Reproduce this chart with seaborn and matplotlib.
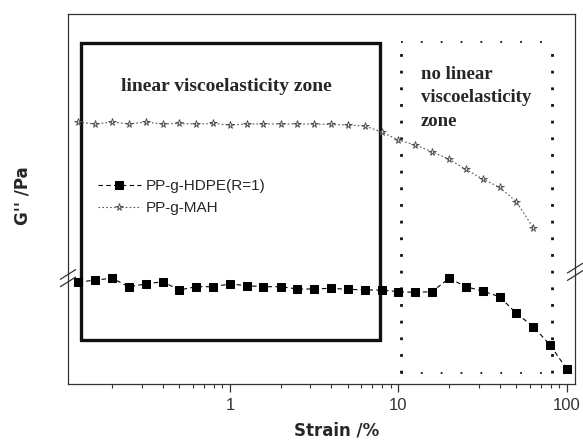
import numpy as np
import pandas as pd
import matplotlib
matplotlib.use("Agg")
import matplotlib.pyplot as plt
import seaborn as sns

# ---- data (y in arbitrary units; axis carries no numeric scale) ----
strain_hdpe = [0.126, 0.158, 0.2, 0.251, 0.316, 0.398, 0.501, 0.631, 0.794, 1.0,
               1.26, 1.58, 2.0, 2.51, 3.16, 3.98, 5.01, 6.31, 7.94, 10.0,
               12.6, 15.8, 20.0, 25.1, 31.6, 39.8, 50.1, 63.1, 79.4, 100.0]
g_hdpe = [101.7, 104.0, 105.7, 97.3, 100.0, 102.3, 94.0, 97.3, 97.3, 100.0,
          98.3, 97.3, 97.3, 95.0, 95.0, 95.7, 94.7, 94.0, 94.0, 92.3,
          91.7, 92.3, 105.7, 97.3, 93.0, 87.3, 70.7, 57.3, 39.0, 14.7]
strain_mah = [0.126, 0.158, 0.2, 0.251, 0.316, 0.398, 0.501, 0.631, 0.794, 1.0,
              1.26, 1.58, 2.0, 2.51, 3.16, 3.98, 5.01, 6.31, 7.94, 10.0,
              12.6, 15.8, 20.0, 25.1, 31.6, 39.8, 50.1, 63.1]
g_mah = [262.0, 260.0, 262.0, 260.0, 262.0, 260.0, 260.5, 260.0, 260.5, 259.0,
         260.0, 260.0, 260.0, 260.0, 260.0, 259.5, 259.0, 258.0, 252.0, 244.0,
         239.0, 232.3, 224.7, 214.7, 205.0, 196.7, 182.3, 156.3]
series_names = ["PP-g-HDPE(R=1)", "PP-g-MAH"]
xtick_vals = [1, 10, 100]
xtick_labels = ["1", "10", "100"]
zone_texts = ["linear viscoelasticity zone", "no linear\nviscoelasticity\nzone"]

sns.set_style("white")
plt.rcParams["font.family"] = ["DejaVu Sans"]

fig = plt.figure(figsize=(5.83, 4.40), dpi=100)
ax = fig.add_axes([68/583, 1-384/440, (575-68)/583, (384-14)/440])

df_h = pd.DataFrame({"strain": strain_hdpe, "g": g_hdpe})
df_m = pd.DataFrame({"strain": strain_mah, "g": g_mah})

sns.lineplot(data=df_h, x="strain", y="g", ax=ax, color="black", linestyle=(0, (4, 3)),
             linewidth=0.8, marker="s", markersize=5.5, markeredgecolor="black",
             markerfacecolor="black", label=series_names[0])
sns.lineplot(data=df_m, x="strain", y="g", ax=ax, color="#555555", linestyle=(0, (1.5, 2)),
             linewidth=0.8, marker="*", markersize=5.5, markeredgecolor="#444444",
             markerfacecolor="#dddddd", markeredgewidth=0.6, label=series_names[1])

ax.set_xscale("log")
ax.set_xlim(0.1093, 111.6)
ax.set_ylim(0, 370)

# ticks
ax.set_xticks(xtick_vals)
ax.set_xticklabels(xtick_labels, fontsize=12, color="#333333", family="Liberation Sans")
ax.xaxis.set_minor_locator(matplotlib.ticker.LogLocator(base=10, subs=np.arange(2, 10)))
ax.xaxis.set_minor_formatter(matplotlib.ticker.NullFormatter())
ax.tick_params(axis="x", which="major", direction="out", length=6, width=0.9, color="#333333",
               bottom=True, top=False, pad=4)
ax.tick_params(axis="x", which="minor", direction="out", length=3, width=0.8, color="#333333",
               bottom=True, top=False)
ax.set_yticks([])
for s in ax.spines.values():
    s.set_color("#333333")
    s.set_linewidth(0.9)

ax.set_xlabel("Strain /%", fontsize=12, fontweight="bold")
ax.xaxis.set_label_coords(0.53, -0.1)
ax.set_ylabel("G'' /Pa", fontsize=12, fontweight="bold")
ax.yaxis.set_label_coords(-0.072, 0.51)

# zone boxes
bx0, bx1, by0, by1 = 0.13, 7.76, 44, 341
ax.plot([bx0, bx1, bx1, bx0, bx0], [by0, by0, by1, by1, by0], color="#111111", lw=2.4,
        solid_joinstyle="miter", zorder=1)
dx0, dx1, dy0, dy1 = 10.3, 81.0, 11.3, 342.3
ax.plot([dx0, dx0], [dy0, dy1], color="#111111", lw=2.0, linestyle=(0, (1, 5)), zorder=1)
ax.plot([dx1, dx1], [dy0, dy1], color="#111111", lw=2.0, linestyle=(0, (1, 5)), zorder=1)
ax.plot([dx0, dx1], [dy1, dy1], color="#111111", lw=1.3, linestyle=(0, (1, 10)), zorder=1)
ax.plot([dx0, dx1], [dy0, dy0], color="#111111", lw=1.3, linestyle=(0, (1, 10)), zorder=1)

ax.text(0.95, 297, zone_texts[0], fontsize=14, fontweight="bold", family="Liberation Serif",
        ha="center", va="center")
ax.text(13.6, 318, zone_texts[1], fontsize=13.5, fontweight="bold", family="Liberation Serif",
        ha="left", va="top", linespacing=1.5)

# legend
handles, labels = ax.get_legend_handles_labels()
leg = ax.legend(handles, labels, loc="upper left", bbox_to_anchor=(0.032, 0.59), frameon=False,
                handlelength=2.8, handletextpad=0.3, labelspacing=0.5,
                prop={"family": "Liberation Sans", "size": 11})

# axis-break marks
def brk(xc, yc):
    for dy in (-0.01, 0.01):
        ax.plot([xc - 0.015, xc + 0.015], [yc + dy - 0.013, yc + dy + 0.013],
                transform=ax.transAxes, color="#333333", lw=0.9, clip_on=False, zorder=5)

brk(0.0, 0.286)
brk(1.0, 0.303)

fig.savefig("out.png", dpi=100)
